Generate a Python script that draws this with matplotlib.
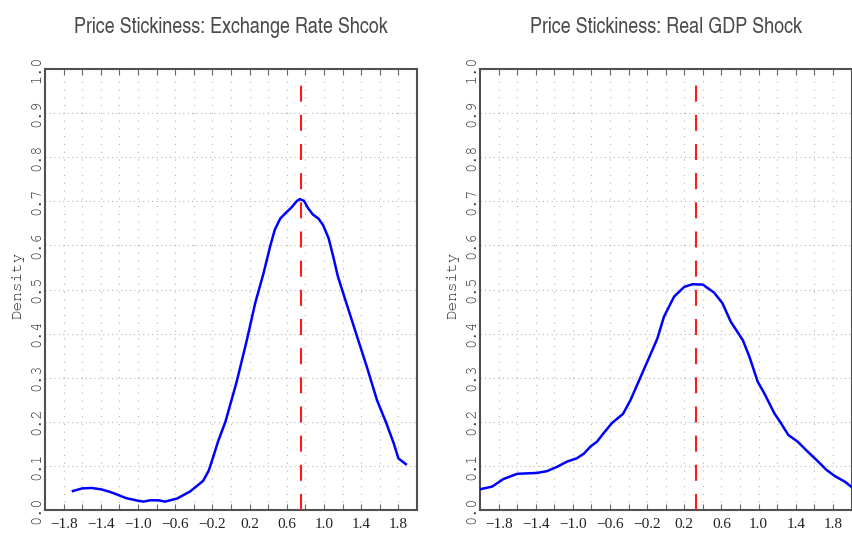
import matplotlib
matplotlib.use("Agg")
import matplotlib.pyplot as plt

# Posterior density of the price-stickiness parameter under two shocks
titles = ["Price Stickiness: Exchange Rate Shcok", "Price Stickiness: Real GDP Shock"]

exch_x = [-1.70, -1.60, -1.50, -1.40, -1.30, -1.20, -1.13, -1.00, -0.94, -0.87,
          -0.78, -0.71, -0.58, -0.44, -0.30, -0.24, -0.19, -0.14, -0.06, 0.06,
          0.17, 0.26, 0.35, 0.42, 0.47, 0.53, 0.60, 0.65, 0.71, 0.74,
          0.785, 0.83, 0.88, 0.94, 0.99, 1.05, 1.10, 1.15, 1.23, 1.30,
          1.35, 1.46, 1.57, 1.67, 1.75, 1.80, 1.88]
exch_density = [0.043, 0.049, 0.050, 0.047, 0.041, 0.033, 0.027, 0.021, 0.019, 0.022,
                0.022, 0.019, 0.026, 0.042, 0.066, 0.089, 0.121, 0.155, 0.200, 0.290,
                0.385, 0.469, 0.537, 0.597, 0.635, 0.661, 0.676, 0.686, 0.701, 0.705,
                0.701, 0.684, 0.670, 0.661, 0.646, 0.616, 0.574, 0.529, 0.476, 0.430,
                0.397, 0.325, 0.249, 0.197, 0.151, 0.117, 0.104]
exch_mean = 0.75

gdp_x = [-2.00, -1.87, -1.75, -1.60, -1.50, -1.39, -1.28, -1.17, -1.06, -0.96,
         -0.88, -0.81, -0.74, -0.67, -0.58, -0.46, -0.38, -0.27, -0.16, -0.09,
         -0.02, 0.09, 0.20, 0.29, 0.40, 0.52, 0.61, 0.70, 0.83, 0.90,
         0.99, 1.06, 1.17, 1.24, 1.32, 1.42, 1.53, 1.64, 1.73, 1.82,
         1.93, 2.02]
gdp_density = [0.047, 0.053, 0.070, 0.082, 0.083, 0.084, 0.088, 0.098, 0.110, 0.117,
               0.128, 0.144, 0.155, 0.174, 0.197, 0.218, 0.249, 0.302, 0.355, 0.389,
               0.438, 0.484, 0.506, 0.512, 0.511, 0.493, 0.469, 0.427, 0.385, 0.348,
               0.291, 0.265, 0.219, 0.197, 0.170, 0.155, 0.132, 0.110, 0.091, 0.077,
               0.064, 0.049]
gdp_mean = 0.33

x_ticks = [-1.8, -1.6, -1.4, -1.2, -1.0, -0.8, -0.6, -0.4, -0.2, 0.0,
           0.2, 0.4, 0.6, 0.8, 1.0, 1.2, 1.4, 1.6, 1.8]
x_tick_labels = ["\u22121.8", "", "\u22121.4", "", "\u22121.0", "", "\u22120.6", "", "\u22120.2", "",
                 "0.2", "", "0.6", "", "1.0", "", "1.4", "", "1.8"]
y_ticks = [0.0, 0.1, 0.2, 0.3, 0.4, 0.5, 0.6, 0.7, 0.8, 0.9, 1.0]
y_tick_labels = ["0.0", "0.1", "0.2", "0.3", "0.4", "0.5", "0.6", "0.7", "0.8", "0.9", "1.0"]
mean_line_top = 0.983

title_font = ["TeX Gyre Heros Cn", "PT Sans Narrow", "DejaVu Sans"]
mono_font = ["TeX Gyre Cursor", "Liberation Mono", "DejaVu Sans Mono"]
serif_font = ["Liberation Serif", "DejaVu Serif"]

W, H = 852, 536
fig = plt.figure(figsize=(W / 100, H / 100), dpi=100)
fig.patch.set_facecolor("white")

panels = [
    (45, 417, exch_x, exch_density, exch_mean, titles[0]),
    (480, 851.5, gdp_x, gdp_density, gdp_mean, titles[1]),
]
top_px, bottom_px = 69, 510

for left, right, xs, ys, mean_val, title in panels:
    ax = fig.add_axes([left / W, (H - bottom_px) / H, (right - left) / W, (bottom_px - top_px) / H])
    ax.set_xlim(-2.0, 2.0)
    ax.set_ylim(0.0, 1.0)

    # dotted grid
    for yv in y_ticks[1:-1]:
        ax.axhline(yv, color="#b4b4b4", lw=0.8, ls=(0, (1, 3)), zorder=0)
    for xv in x_ticks:
        ax.axvline(xv, color="#b4b4b4", lw=0.8, ls=(0, (1, 6)), zorder=0)

    ax.plot(xs, ys, color="#0000ff", lw=1.8, solid_joinstyle="round", zorder=3)
    ax.plot([mean_val, mean_val], [0.0, mean_line_top], color="#ff1a1a", lw=1.5,
            dashes=(7.7, 6.3), zorder=4)

    ax.set_xticks(x_ticks)
    ax.set_xticklabels(x_tick_labels, fontfamily=serif_font, fontsize=11, color="#222222")
    ax.set_yticks(y_ticks)
    ax.set_yticklabels(y_tick_labels, fontfamily=mono_font, fontsize=11, color="#333333",
                       rotation=90, va="center")
    ax.tick_params(axis="x", which="both", direction="in", length=4.5, width=0.8,
                   color="#666666", top=True, bottom=True, pad=6)
    ax.tick_params(axis="y", which="both", length=0, pad=1.5)

    for sp in ax.spines.values():
        sp.set_color("#505050")
        sp.set_linewidth(1.5)

    ax.set_ylabel("Density", fontfamily=mono_font, fontsize=11.5, color="#333333")
    ax.yaxis.set_label_coords(-0.056, 0.51)
    ax.set_title(title, fontfamily=title_font, fontsize=15.8, color="#4a4a4a", pad=26)

fig.savefig("out.png", dpi=100, facecolor="white")
